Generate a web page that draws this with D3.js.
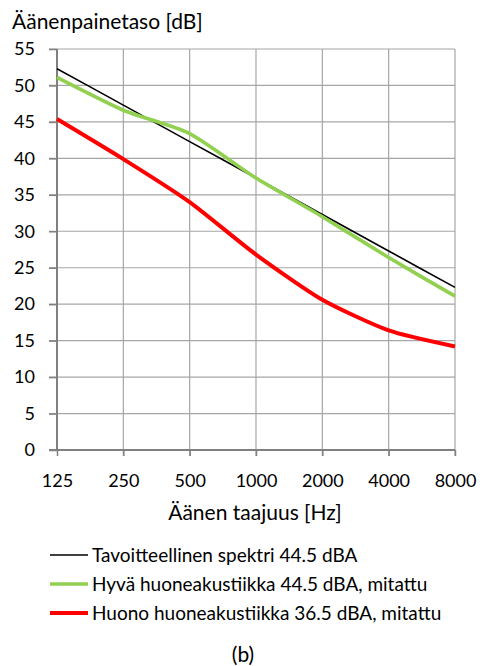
<!DOCTYPE html>
<html>
<head>
<meta charset="utf-8">
<script src="https://cdn.jsdelivr.net/npm/d3@7"></script>
<style>
  body { margin: 0; background: #fff; }
  text { font-family: Lato, "Open Sans", sans-serif; fill: #000; }
</style>
</head>
<body>
<div id="chart"></div>
<script>
const width = 485;
const height = 666;
const margin = {top: 49, right: 30, bottom: 216, left: 57};

// taajuudet ja tasot (dB)
const freqs = ["125", "250", "500", "1000", "2000", "4000", "8000"];
const tavoite = [52.3, 47.3, 42.3, 37.3, 32.3, 27.3, 22.3];
const hyva = [51.1, 46.6, 43.4, 37.3, 32.0, 26.4, 21.1];
const huono = [45.4, 39.9, 34.0, 26.8, 20.6, 16.4, 14.2];
const yTicks = [0, 5, 10, 15, 20, 25, 30, 35, 40, 45, 50, 55];

const series = [
    {name: "Tavoitteellinen spektri 44.5 dBA", values: tavoite, color: "#000000", w: 1.6},
    {name: "Hyvä huoneakustiikka 44.5 dBA, mitattu", values: hyva, color: "#92D050", w: 3.6},
    {name: "Huono huoneakustiikka 36.5 dBA, mitattu", values: huono, color: "#FF0000", w: 4}
];

let svg = d3.select("#chart").append("svg")
    .attr("width", width)
    .attr("height", height);

let x = d3.scalePoint()
    .domain(freqs)
    .range([margin.left, width - margin.right]);

let y = d3.scaleLinear()
    .domain([0, 55])
    .range([height - margin.bottom, margin.top]);

// ruudukko
svg.append("g")
    .selectAll("line.h")
    .data(yTicks.slice(1))
    .join("line")
    .attr("x1", margin.left - 8)
    .attr("x2", width - margin.right)
    .attr("y1", d => y(d))
    .attr("y2", d => y(d))
    .attr("stroke", "#a6a6a6")
    .attr("stroke-width", 1.2);

svg.append("g")
    .selectAll("line.v")
    .data(freqs.slice(1))
    .join("line")
    .attr("x1", d => x(d))
    .attr("x2", d => x(d))
    .attr("y1", y(55))
    .attr("y2", y(0) + 6)
    .attr("stroke", "#a6a6a6")
    .attr("stroke-width", 1.2);

// akselit
let yAxis = svg.append("g")
    .attr("transform", `translate(${margin.left},0)`)
    .call(d3.axisLeft(y).tickValues(yTicks).tickSize(8).tickPadding(14));

let xAxis = svg.append("g")
    .attr("transform", `translate(0,${y(0)})`)
    .call(d3.axisBottom(x).tickSize(6).tickPadding(18));

[yAxis, xAxis].forEach(a => {
    a.select(".domain").remove();
    a.selectAll("line").attr("stroke", "#808080").attr("stroke-width", 1.5);
    a.selectAll("text")
        .style("font-family", "Lato, 'Open Sans', sans-serif")
        .style("font-size", "18px")
        .attr("fill", "#000");
});

svg.append("line")
    .attr("x1", margin.left).attr("x2", margin.left)
    .attr("y1", y(55)).attr("y2", y(0))
    .attr("stroke", "#808080").attr("stroke-width", 2);
svg.append("line")
    .attr("x1", margin.left - 8).attr("x2", width - margin.right)
    .attr("y1", y(0)).attr("y2", y(0))
    .attr("stroke", "#808080").attr("stroke-width", 2);

// viivat (Excelin pehmennetty viiva)
let line = d3.line()
    .x((d, i) => x(freqs[i]))
    .y(d => y(d))
    .curve(d3.curveCardinal.tension(0.35));

svg.append("g")
    .selectAll("path")
    .data(series)
    .join("path")
    .attr("d", d => line(d.values))
    .attr("fill", "none")
    .attr("stroke", d => d.color)
    .attr("stroke-width", d => d.w)
    .attr("stroke-linejoin", "round");

// otsikot
svg.append("text")
    .attr("x", 12)
    .attr("y", 29)
    .style("font-size", "21px")
    .text("Äänenpainetaso [dB]");

svg.append("text")
    .attr("x", 255)
    .attr("y", 520)
    .attr("text-anchor", "middle")
    .style("font-size", "21px")
    .text("Äänen taajuus [Hz]");

// selite
let legend = svg.append("g")
    .selectAll("g")
    .data(series)
    .join("g")
    .attr("transform", (d, i) => `translate(50,${555 + i * 29})`);

legend.append("line")
    .attr("x1", 0).attr("x2", 38)
    .attr("stroke", d => d.color)
    .attr("stroke-width", d => d.w);

legend.append("text")
    .attr("x", 42)
    .attr("dy", "0.35em")
    .style("font-size", "19px")
    .text(d => d.name);

svg.append("text")
    .attr("x", 243)
    .attr("y", 662)
    .attr("text-anchor", "middle")
    .style("font-size", "21px")
    .text("(b)");
</script>
</body>
</html>
